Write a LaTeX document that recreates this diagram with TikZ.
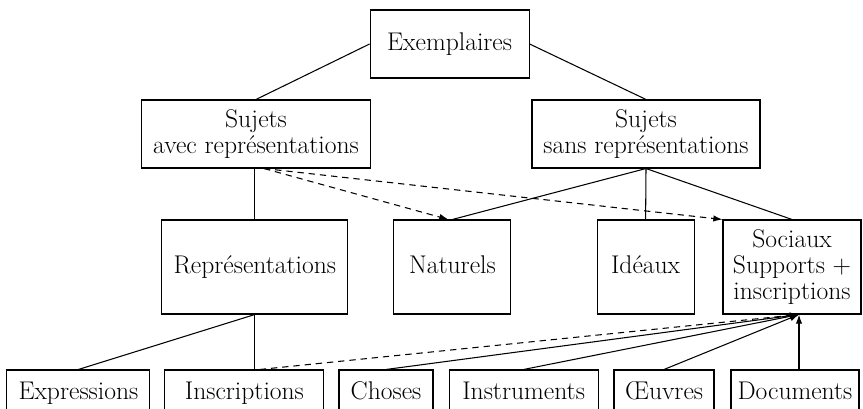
\documentclass[tikz,border=0pt]{standalone}
\usepackage{tikz}
\usetikzlibrary{arrows.meta}
\tikzset{
  >={Latex[length=6.5pt,width=4.5pt]},
}
\tikzstyle{every node}=[font=\fontsize{18.2}{18.5}\selectfont]
\tikzstyle{box}=[draw,line width=.75pt,align=center,inner sep=0pt]
\tikzstyle{ligne}=[text height=12.5pt,text depth=3.5pt]
\tikzstyle{haut}=[box,minimum height=1.7cm]
\tikzstyle{milieu}=[box,minimum height=2.35cm]
\tikzstyle{bas}=[box,ligne,minimum height=1.15cm]
\tikzstyle{link}=[line width=.75pt]
\tikzstyle{vlink}=[line width=.75pt,->]
\tikzstyle{dlink}=[line width=.75pt,->,dash pattern=on 4.5pt off 3.5pt]

\begin{document}
\begin{tikzpicture}
    \clip (0,0) rectangle (21.575,-10.225);

    \node[haut,minimum width=3.975cm] (ex) at (11.24,-1.1) {Exemplaires};
    \node[haut,minimum width=5.725cm] (sa) at (6.4,-3.35) {Sujets\\avec représentations};
    \node[haut,minimum width=5.7cm] (ss) at (16.15,-3.35) {Sujets\\sans représentations};

    \node[milieu,ligne,minimum width=4.65cm] (rep) at (6.37,-6.675) {Représentations};
    \node[milieu,ligne,minimum width=2.925cm] (nat) at (11.31,-6.675) {Naturels};
    \node[milieu,ligne,minimum width=2.425cm] (ide) at (16.14,-6.675) {Idéaux};
    \node[milieu,minimum width=3.45cm] (soc) at (19.8,-6.675) {Sociaux\\Supports +\\inscriptions};

    \node[bas,minimum width=3.575cm] (expr) at (1.96,-9.825) {Expressions};
    \node[bas,minimum width=3.975cm] (insc) at (6.11,-9.825) {Inscriptions};
    \node[bas,minimum width=2.35cm] (cho) at (9.65,-9.825) {Choses};
    \node[bas,minimum width=3.725cm] (ins) at (13.09,-9.825) {Instruments};
    \node[bas,minimum width=2.5cm] (oeu) at (16.6,-9.825) {Œuvres};
    \node[bas,minimum width=3.2cm] (doc) at (19.875,-9.825) {Documents};

    \draw[link] (ex.west)--(sa.north);
    \draw[link] (ex.east)--(ss.north);
    \draw[link] (rep.north |- sa.south)--(rep.north);
    \draw[link] (ss.south)--(nat.north);
    \draw[link] (ss.south)--(ide.north);
    \draw[link] (ss.south)--(soc.north);

    \coordinate (saDash) at ([xshift=.2cm]sa.south);
    \draw[dlink] (saDash)--([xshift=-.1cm]nat.north);
    \draw[dlink] (saDash)--(soc.north west);

    \draw[link] (rep.south)--(expr.north);
    \draw[link] (rep.south)--(rep.south |- insc.north);

    \coordinate (hub) at ([xshift=.175cm]soc.south);
    \coordinate (inscDash) at ([xshift=.125cm]rep.south |- insc.north);
    \draw[dlink] (inscDash)--(hub);
    \foreach \n in {cho,ins,oeu}
      \draw[vlink] (\n.north)--(hub);
    \draw[vlink] (doc.north -| hub)--(hub);
  \end{tikzpicture}
\end{document}
